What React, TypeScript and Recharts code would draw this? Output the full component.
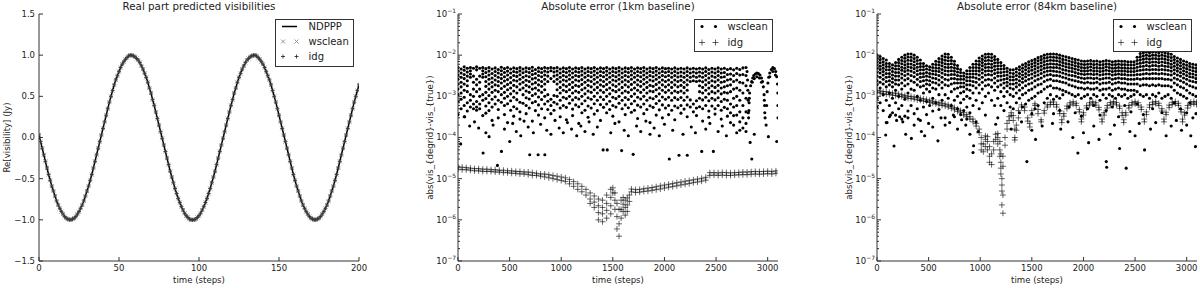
import React from 'react';
import { ComposedChart, ScatterChart, Scatter, Line, XAxis, YAxis, Legend } from 'recharts';

const FONT = "'DejaVu Sans', sans-serif";
const INK = '#222';
const FRAME = '#333';

// Real part of the predicted visibility (Jy), one value per time step 0..200.
// NDPPP, wsclean and idg lie on top of each other at this scale.
const REAL_VIS = [
  0.03, -0.05, -0.13, -0.21, -0.29, -0.37, -0.45, -0.52, -0.59, -0.65,
  -0.71, -0.77, -0.82, -0.86, -0.9, -0.93, -0.96, -0.98, -0.99, -1.0,
  -1.0, -0.99, -0.98, -0.96, -0.93, -0.9, -0.86, -0.82, -0.77, -0.71,
  -0.65, -0.59, -0.52, -0.45, -0.37, -0.29, -0.21, -0.13, -0.05, 0.03,
  0.11, 0.19, 0.27, 0.35, 0.43, 0.5, 0.57, 0.64, 0.7, 0.75,
  0.8, 0.85, 0.89, 0.92, 0.95, 0.97, 0.99, 1.0, 1.0, 0.99,
  0.98, 0.96, 0.94, 0.91, 0.87, 0.83, 0.78, 0.73, 0.67, 0.6,
  0.54, 0.46, 0.39, 0.31, 0.23, 0.15, 0.07, -0.01, -0.09, -0.17,
  -0.25, -0.33, -0.41, -0.48, -0.55, -0.62, -0.68, -0.74, -0.79, -0.84,
  -0.88, -0.92, -0.95, -0.97, -0.99, -1.0, -1.0, -1.0, -0.99, -0.97,
  -0.95, -0.92, -0.88, -0.84, -0.79, -0.74, -0.68, -0.62, -0.55, -0.48,
  -0.41, -0.33, -0.25, -0.17, -0.09, -0.01, 0.07, 0.15, 0.23, 0.31,
  0.39, 0.46, 0.54, 0.6, 0.67, 0.73, 0.78, 0.83, 0.87, 0.91,
  0.94, 0.96, 0.98, 0.99, 1.0, 1.0, 0.99, 0.97, 0.95, 0.92,
  0.89, 0.85, 0.8, 0.75, 0.7, 0.64, 0.57, 0.5, 0.43, 0.35,
  0.27, 0.19, 0.11, 0.03, -0.05, -0.13, -0.21, -0.29, -0.37, -0.45,
  -0.52, -0.59, -0.65, -0.71, -0.77, -0.82, -0.86, -0.9, -0.93, -0.96,
  -0.98, -0.99, -1.0, -1.0, -0.99, -0.98, -0.96, -0.93, -0.9, -0.86,
  -0.82, -0.77, -0.71, -0.65, -0.59, -0.52, -0.45, -0.37, -0.29, -0.21,
  -0.13, -0.05, 0.03, 0.11, 0.19, 0.27, 0.35, 0.43, 0.5, 0.57,
  0.64,
];

const REAL_X_TICKS = [0, 50, 100, 150, 200];
const REAL_Y_TICKS = [-1.5, -1, -0.5, 0, 0.5, 1, 1.5];
const ERR_X_TICKS = [0, 500, 1000, 1500, 2000, 2500, 3000];
const ERR_DECADES = [1e-7, 1e-6, 1e-5, 1e-4, 1e-3, 1e-2, 1e-1];

// 1km baseline, wsclean: [time step, ...abs errors read in that column]
const WS_1KM = [
  [0, 5e-3, 4.1e-3, 3.3e-3, 2.6e-3, 2e-3, 1.5e-3, 1.1e-3, 7.5e-4, 3.6e-4],
  [30, 4.6e-3, 3.7e-3, 2.9e-3, 2.2e-3, 1.7e-3, 1.2e-3, 8.5e-4, 5e-4],
  [60, 5.2e-3, 4.3e-3, 3.4e-3, 2.7e-3, 2e-3, 1.4e-3, 9.5e-4, 6e-4, 3.2e-4],
  [90, 4.8e-3, 3.9e-3, 3.1e-3, 2.4e-3, 1.8e-3, 1.3e-3, 7e-4, 4.4e-4],
  [120, 5e-3, 4.2e-3, 3.5e-3, 2.9e-3, 1.1e-3, 8e-4, 5.5e-4],
  [150, 4.8e-3, 3.1e-3, 2.2e-3, 1.5e-3, 1e-3, 6.5e-4, 5e-4],
  [180, 5.2e-3, 4.4e-3, 2.6e-3, 1.9e-3, 1.3e-3, 7.5e-4, 5.5e-4, 4.6e-4],
  [210, 4.8e-3, 3.1e-3, 2.2e-3, 1.5e-3, 1e-3, 6.5e-4, 5e-4],
  [240, 5e-3, 4.2e-3, 3.5e-3, 2.9e-3, 1.1e-3, 8e-4, 3.4e-4],
  [270, 4.7e-3, 3.8e-3, 3e-3, 2.3e-3, 1.75e-3, 1.25e-3, 8.8e-4, 5.8e-4, 3.9e-4],
  [300, 5e-3, 4.1e-3, 3.3e-3, 2.6e-3, 2e-3, 1.5e-3, 1.05e-3, 7e-4, 4.5e-4],
  [330, 4.6e-3, 3.6e-3, 2.8e-3, 2.2e-3, 1.7e-3, 1.25e-3, 8.5e-4, 5.5e-4, 2.6e-4],
  [360, 4.9e-3, 4e-3, 3.2e-3, 2.5e-3, 1.9e-3, 1.4e-3, 9.8e-4, 6.5e-4],
  [390, 4.5e-3, 3.7e-3, 2.9e-3, 2.3e-3, 1.8e-3, 1.3e-3, 8e-4, 4.8e-4, 3e-4],
  [420, 5.1e-3, 4.2e-3, 3.4e-3, 2.7e-3, 2.1e-3, 1.55e-3, 1.1e-3, 7.2e-4],
  [450, 4.7e-3, 3.8e-3, 3e-3, 2.35e-3, 1.75e-3, 1.25e-3, 9e-4, 6e-4, 3.6e-4],
  [480, 5e-3, 4.1e-3, 3.3e-3, 2.55e-3, 1.95e-3, 1.45e-3, 1e-3, 6.6e-4, 2.3e-4],
  [510, 4.6e-3, 3.7e-3, 2.85e-3, 2.15e-3, 1.6e-3, 1.15e-3, 7.8e-4, 4.6e-4],
  [540, 4.9e-3, 4e-3, 3.2e-3, 2.45e-3, 1.85e-3, 1.35e-3, 9.5e-4, 5.6e-4, 3.3e-4],
  [570, 4.7e-3, 3.85e-3, 3.05e-3, 2.35e-3, 1.7e-3, 1.2e-3, 8.3e-4, 5e-4],
  [600, 5e-3, 4.15e-3, 3.35e-3, 2.6e-3, 2e-3, 1.45e-3, 7.2e-4, 4.2e-4, 2.8e-4],
  [630, 4.6e-3, 3.75e-3, 2.9e-3, 2.2e-3, 1.6e-3, 1.1e-3, 6.8e-4],
  [660, 4.9e-3, 4e-3, 3.15e-3, 2.45e-3, 1.85e-3, 1.35e-3, 9.2e-4, 6e-4, 3.8e-4],
  [690, 4.7e-3, 3.8e-3, 3e-3, 2.3e-3, 1.7e-3, 1.25e-3, 8.6e-4, 5.2e-4],
  [720, 5.1e-3, 4.2e-3, 3.4e-3, 2.65e-3, 2e-3, 1.5e-3, 1.05e-3, 7e-4, 2.5e-4],
  [750, 4.5e-3, 3.6e-3, 2.8e-3, 2.15e-3, 1.6e-3, 1.15e-3, 7.5e-4, 4.5e-4],
  [780, 4.9e-3, 4e-3, 3.2e-3, 2.5e-3, 1.9e-3, 1.4e-3, 9.6e-4, 6.2e-4, 3.5e-4],
  [810, 4.7e-3, 3.8e-3, 3e-3, 2.3e-3, 1.75e-3, 1.25e-3, 8.4e-4, 5e-4],
  [840, 5e-3, 4.1e-3, 3.3e-3, 2.6e-3, 2e-3, 1.45e-3, 1e-3, 6.5e-4, 3e-4],
  [870, 4.8e-3, 3.9e-3, 3.1e-3, 2.3e-3, 1.1e-3, 7.6e-4, 4.8e-4],
  [900, 5e-3, 4.2e-3, 2.7e-3, 8.5e-4, 6e-4, 3.8e-4],
  [930, 4.8e-3, 3.9e-3, 3.1e-3, 2.3e-3, 1.05e-3, 7.2e-4, 4.6e-4],
  [960, 5e-3, 4.1e-3, 3.3e-3, 2.6e-3, 2e-3, 1.45e-3, 1e-3, 6.5e-4],
  [990, 4.6e-3, 3.7e-3, 2.9e-3, 2.25e-3, 1.65e-3, 1.2e-3, 8e-4, 5.2e-4, 3.2e-4],
  [1020, 4.9e-3, 4e-3, 3.2e-3, 2.5e-3, 1.9e-3, 1.4e-3, 9.5e-4, 6e-4],
  [1050, 4.7e-3, 3.8e-3, 3e-3, 2.35e-3, 1.75e-3, 1.3e-3, 8.8e-4, 5.4e-4, 2.7e-4],
  [1080, 5e-3, 4.1e-3, 3.3e-3, 2.6e-3, 1.95e-3, 1.45e-3, 1e-3, 6.8e-4],
  [1110, 4.6e-3, 3.7e-3, 2.9e-3, 2.2e-3, 1.65e-3, 1.2e-3, 8.2e-4, 4.9e-4, 3.4e-4],
  [1140, 4.9e-3, 4e-3, 3.2e-3, 2.5e-3, 1.85e-3, 1.35e-3, 9.4e-4, 6.2e-4],
  [1170, 4.7e-3, 3.85e-3, 3.05e-3, 2.35e-3, 1.75e-3, 1.25e-3, 8.6e-4, 5.6e-4, 2.2e-4],
  [1200, 5e-3, 4.1e-3, 3.3e-3, 2.55e-3, 1.95e-3, 1.45e-3, 1e-3, 6.6e-4, 4e-4],
  [1230, 4.6e-3, 3.7e-3, 2.9e-3, 2.2e-3, 1.6e-3, 1.15e-3, 7.8e-4, 4.6e-4],
  [1260, 4.9e-3, 4e-3, 3.2e-3, 2.45e-3, 1.85e-3, 1.35e-3, 9.2e-4, 5.8e-4, 3.1e-4],
  [1290, 4.7e-3, 3.8e-3, 3e-3, 2.3e-3, 1.7e-3, 1.25e-3, 8.5e-4, 5.2e-4],
  [1320, 5e-3, 4.1e-3, 3.3e-3, 2.6e-3, 2e-3, 1.45e-3, 1e-3, 6.6e-4, 3.7e-4],
  [1350, 4.6e-3, 3.7e-3, 2.9e-3, 2.2e-3, 1.65e-3, 1.2e-3, 8e-4, 4.5e-4],
  [1380, 4.9e-3, 4e-3, 3.2e-3, 2.5e-3, 1.9e-3, 1.4e-3, 9.6e-4, 6.3e-4, 2.6e-4],
  [1410, 4.7e-3, 3.8e-3, 3e-3, 2.3e-3, 1.75e-3, 1.25e-3, 8.4e-4, 5.4e-4],
  [1440, 5e-3, 4.1e-3, 3.3e-3, 2.6e-3, 1.95e-3, 1.45e-3, 1e-3, 6.5e-4, 4e-4],
  [1470, 4.6e-3, 3.7e-3, 2.9e-3, 2.2e-3, 1.6e-3, 1.15e-3, 7.6e-4, 4.8e-4],
  [1500, 4.9e-3, 4e-3, 3.2e-3, 2.5e-3, 1.9e-3, 1.4e-3, 9.5e-4, 6e-4, 3.3e-4],
  [1530, 4.7e-3, 3.8e-3, 3e-3, 2.35e-3, 1.75e-3, 1.3e-3, 8.8e-4, 5.5e-4],
  [1560, 5e-3, 4.1e-3, 3.3e-3, 2.6e-3, 2e-3, 1.45e-3, 1e-3, 6.8e-4, 2.4e-4],
  [1590, 4.6e-3, 3.7e-3, 2.9e-3, 2.25e-3, 1.65e-3, 1.2e-3, 8e-4, 5e-4],
  [1620, 4.9e-3, 4e-3, 3.2e-3, 2.5e-3, 1.9e-3, 1.35e-3, 9.4e-4, 6.2e-4, 3.6e-4],
  [1650, 4.7e-3, 3.8e-3, 3e-3, 2.3e-3, 1.7e-3, 1.25e-3, 8.4e-4, 5.3e-4],
  [1680, 5e-3, 4.1e-3, 3.3e-3, 2.6e-3, 1.95e-3, 1.45e-3, 1e-3, 6.6e-4, 4.1e-4],
  [1710, 4.6e-3, 3.7e-3, 2.9e-3, 2.2e-3, 1.6e-3, 1.15e-3, 7.7e-4, 4.6e-4],
  [1740, 4.9e-3, 4e-3, 3.2e-3, 2.5e-3, 1.9e-3, 1.4e-3, 9.5e-4, 6.1e-4, 2.9e-4],
  [1770, 4.7e-3, 3.8e-3, 3e-3, 2.3e-3, 1.75e-3, 1.25e-3, 8.6e-4, 5.5e-4],
  [1800, 5e-3, 4.1e-3, 3.3e-3, 2.6e-3, 2e-3, 1.45e-3, 1e-3, 6.5e-4, 3.8e-4],
  [1830, 4.6e-3, 3.7e-3, 2.9e-3, 2.2e-3, 1.65e-3, 1.2e-3, 8e-4, 4.8e-4],
  [1860, 4.9e-3, 4e-3, 3.2e-3, 2.5e-3, 1.85e-3, 1.35e-3, 9.2e-4, 5.9e-4, 2.3e-4],
  [1890, 4.7e-3, 3.8e-3, 3e-3, 2.35e-3, 1.75e-3, 1.3e-3, 8.7e-4, 5.4e-4],
  [1920, 5e-3, 4.1e-3, 3.3e-3, 2.6e-3, 1.95e-3, 1.45e-3, 1e-3, 6.7e-4, 3.5e-4],
  [1950, 4.6e-3, 3.7e-3, 2.9e-3, 2.2e-3, 1.6e-3, 1.15e-3, 7.8e-4, 4.7e-4],
  [1980, 4.9e-3, 4e-3, 3.2e-3, 2.5e-3, 1.9e-3, 1.4e-3, 9.6e-4, 6.2e-4, 3e-4],
  [2010, 4.7e-3, 3.8e-3, 3e-3, 2.3e-3, 1.7e-3, 1.25e-3, 8.5e-4, 5.2e-4],
  [2040, 4.8e-3, 4e-3, 3.2e-3, 2.5e-3, 1.9e-3, 1.4e-3, 9.5e-4, 6e-4, 3.6e-4],
  [2070, 4.6e-3, 3.7e-3, 2.9e-3, 2.2e-3, 1.65e-3, 1.2e-3, 8e-4, 4.6e-4],
  [2100, 4.9e-3, 4e-3, 3.2e-3, 2.5e-3, 1.9e-3, 1.35e-3, 9.3e-4, 5.8e-4, 2.7e-4],
  [2130, 4.6e-3, 3.7e-3, 2.95e-3, 2.3e-3, 1.7e-3, 1.25e-3, 8.4e-4, 5.3e-4],
  [2160, 4.8e-3, 3.9e-3, 3.1e-3, 2.45e-3, 1.85e-3, 1.35e-3, 9.4e-4, 6e-4, 3.9e-4],
  [2190, 4.6e-3, 3.7e-3, 2.9e-3, 2.2e-3, 1.65e-3, 1.2e-3, 8e-4, 4.9e-4],
  [2220, 4.9e-3, 4e-3, 3.2e-3, 2.5e-3, 1.9e-3, 1.4e-3, 9.6e-4, 6.2e-4, 3.2e-4],
  [2250, 4.6e-3, 3.7e-3, 2.9e-3, 2.3e-3, 8.2e-4, 5.5e-4],
  [2280, 4.8e-3, 3.9e-3, 3.1e-3, 2.4e-3, 6.5e-4, 4.2e-4],
  [2310, 4.6e-3, 3.7e-3, 2.9e-3, 2.3e-3, 7.8e-4, 5.2e-4, 3.4e-4],
  [2340, 4.8e-3, 3.9e-3, 3.1e-3, 2.4e-3, 1.8e-3, 1.3e-3, 9e-4, 5.6e-4],
  [2370, 4.6e-3, 3.7e-3, 2.9e-3, 2.25e-3, 1.65e-3, 1.2e-3, 8.2e-4, 5e-4, 2.5e-4],
  [2400, 4.9e-3, 4e-3, 3.2e-3, 2.5e-3, 1.9e-3, 1.4e-3, 9.5e-4, 6e-4],
  [2430, 4.5e-3, 3.6e-3, 2.8e-3, 2.15e-3, 1.6e-3, 1.15e-3, 7.8e-4, 4.4e-4, 3.1e-4],
  [2460, 4.8e-3, 3.9e-3, 3.1e-3, 2.4e-3, 1.8e-3, 1.3e-3, 9e-4, 5.8e-4],
  [2490, 4.6e-3, 3.7e-3, 2.9e-3, 2.25e-3, 1.65e-3, 1.2e-3, 8.2e-4, 5e-4, 3.7e-4],
  [2520, 4.9e-3, 4e-3, 3.2e-3, 2.5e-3, 1.85e-3, 1.35e-3, 9.2e-4, 6e-4],
  [2550, 4.6e-3, 3.7e-3, 2.9e-3, 2.2e-3, 1.6e-3, 1.15e-3, 7.5e-4, 4.6e-4, 2.8e-4],
  [2580, 4.8e-3, 3.8e-3, 3e-3, 2.3e-3, 1.7e-3, 1.25e-3, 8.5e-4, 5.4e-4],
  [2610, 4.5e-3, 3.4e-3, 2.5e-3, 1.8e-3, 1.2e-3, 8e-4, 5e-4, 3.3e-4],
  [2640, 4.7e-3, 3.5e-3, 2.6e-3, 1.9e-3, 1.3e-3, 6.5e-4, 4e-4],
  [2670, 4.4e-3, 3.2e-3, 2.3e-3, 1.5e-3, 9e-4, 5.5e-4, 3.4e-4, 2e-4],
  [2700, 4.8e-3, 3.6e-3, 2.5e-3, 1.6e-3, 1e-3, 6e-4, 3.5e-4],
  [2730, 4.5e-3, 3.3e-3, 2.2e-3, 1.4e-3, 8e-4, 4.2e-4, 2.4e-4, 1.5e-4],
  [2760, 4.9e-3, 3.4e-3, 2.1e-3, 1.2e-3, 6e-4, 3e-4],
  [2790, 5e-3, 3.2e-3, 1.8e-3, 9e-4, 4.2e-4, 2.2e-4, 1.4e-4],
];

// 1km baseline, wsclean: the two arches at the end of the run [time step, abs error]
const WS_1KM_ARCHES = [
  [2800, 4e-3], [2805, 2.5e-3], [2808, 1.4e-3], [2811, 8e-4], [2813, 4e-4], [2815, 3e-4],
  [2818, 4.5e-4], [2820, 7e-4], [2822, 9e-4], [2825, 1.2e-3], [2835, 1.8e-3], [2845, 2.3e-3],
  [2855, 2.8e-3], [2865, 3.2e-3], [2880, 3.5e-3], [2895, 3.7e-3], [2910, 3.6e-3], [2925, 3.3e-3],
  [2940, 2.8e-3], [2950, 2.3e-3], [2958, 1.7e-3], [2965, 1.1e-3], [2968, 8e-4], [2970, 6e-4],
  [2972, 4e-4], [2975, 3e-4], [2850, 2.2e-3], [2870, 2.7e-3], [2895, 3e-3], [2920, 2.8e-3],
  [2940, 2.2e-3], [2985, 2e-4], [2990, 6e-4], [2995, 1.3e-3], [3002, 2.1e-3], [3010, 2.9e-3],
  [3020, 3.7e-3], [3035, 4.5e-3], [3050, 5e-3], [3065, 4.7e-3], [3078, 4e-3], [3088, 3e-3],
  [3095, 2e-3], [3098, 1.2e-3], [3099, 6e-4], [3100, 3e-4], [3020, 3e-3], [3050, 4e-3], [3075, 3.3e-3],
];

// 1km baseline, wsclean: scattered low points
const WS_1KM_LOW = [
  [26, 7e-5], [65, 3.2e-4], [113, 1.9e-4], [160, 2.4e-4], [200, 1.7e-4], [243, 4.2e-5],
  [270, 1.3e-4], [301, 1.05e-4], [340, 2e-4], [382, 2.1e-5], [421, 4.6e-5], [450, 1.6e-4],
  [501, 8e-5], [530, 2.2e-4], [565, 1.4e-4], [608, 1.1e-4], [640, 2.5e-4], [680, 1.8e-4],
  [695, 3.8e-5], [730, 1.3e-4], [776, 3.8e-5], [800, 2.1e-4], [841, 3.8e-5], [860, 1.5e-4],
  [900, 1.2e-4], [940, 2.6e-4], [980, 1.7e-4], [1020, 1.3e-4], [1060, 2.3e-4], [1100, 1.6e-4],
  [1150, 1.1e-4], [1190, 1.9e-4], [1230, 1.4e-4], [1270, 2.4e-4], [1310, 1.2e-4], [1350, 1.8e-4],
  [1406, 5e-5], [1446, 5e-5], [1480, 1.3e-4], [1520, 2.2e-4], [1585, 4.8e-5], [1610, 1.5e-4],
  [1650, 1.1e-4], [1697, 3.9e-5], [1730, 1.9e-4], [1770, 1.4e-4], [1820, 2.5e-4], [1860, 1.2e-4],
  [1900, 1.7e-4], [1950, 1.1e-4], [2000, 2.1e-4], [2047, 3e-5], [2080, 1.5e-4], [2141, 3.7e-5],
  [2180, 1.2e-4], [2221, 3.7e-5], [2260, 1.8e-4], [2300, 1.3e-4], [2361, 4.6e-5], [2400, 1.6e-4],
  [2440, 2.2e-4], [2474, 4.6e-5], [2520, 1.4e-4], [2560, 1.9e-4], [2600, 1.1e-4], [2640, 2.3e-4],
  [2700, 1.3e-4], [2760, 1.7e-4], [2830, 7.6e-5], [2846, 3e-5], [2870, 1.2e-4], [3007, 1.05e-4],
  [3088, 8e-5],
];

// 1km baseline, idg: [time step, ...abs errors in that column]
const IDG_1KM = [
  [0, 1.9e-5, 1.7e-5], [40, 1.9e-5, 1.65e-5], [80, 1.85e-5, 1.65e-5], [120, 1.8e-5, 1.6e-5],
  [160, 1.75e-5, 1.55e-5], [200, 1.75e-5, 1.55e-5], [240, 1.7e-5, 1.5e-5], [280, 1.7e-5, 1.5e-5],
  [320, 1.65e-5, 1.5e-5], [360, 1.65e-5, 1.45e-5], [400, 1.6e-5, 1.45e-5], [440, 1.6e-5, 1.4e-5],
  [480, 1.55e-5, 1.4e-5], [520, 1.55e-5, 1.35e-5], [560, 1.5e-5, 1.35e-5], [600, 1.5e-5, 1.3e-5],
  [640, 1.45e-5, 1.3e-5], [680, 1.45e-5, 1.25e-5], [720, 1.4e-5, 1.2e-5], [760, 1.35e-5, 1.2e-5],
  [800, 1.3e-5, 1.15e-5], [840, 1.3e-5, 1.1e-5], [880, 1.25e-5, 1.05e-5], [920, 1.2e-5, 1e-5],
  [960, 1.15e-5, 9.5e-6], [1000, 1.1e-5, 9e-6], [1040, 1.05e-5, 8.5e-6], [1080, 9.5e-6, 7.5e-6],
  [1120, 8.5e-6, 6.5e-6], [1160, 7.5e-6, 5.5e-6], [1200, 6.5e-6, 4.8e-6], [1240, 5.5e-6, 4e-6],
  [1280, 4.5e-6, 3.2e-6, 2.5e-6], [1320, 3.8e-6, 2.7e-6, 2e-6], [1360, 3.2e-6, 2.2e-6, 1.5e-6, 1e-6],
  [1400, 3e-6, 2e-6, 1.4e-6, 9e-7], [1440, 4e-6, 2.5e-6, 1.7e-6, 1.1e-6],
  [1480, 5.5e-6, 3.5e-6, 2.2e-6, 1.4e-6], [1500, 6e-6, 4.5e-6], [1520, 4.5e-6, 3e-6, 1.8e-6],
  [1540, 2.5e-6, 1.2e-6, 6e-7], [1560, 1.8e-6, 8e-7, 4e-7], [1580, 3e-6, 1.8e-6, 1.1e-6],
  [1600, 3.5e-6, 2.4e-6, 1.6e-6], [1620, 3e-6, 2e-6, 1.3e-6], [1640, 3.4e-6, 2.3e-6, 1.6e-6],
  [1660, 4e-6, 2.8e-6], [1680, 5.6e-6, 4.8e-6], [1720, 5.4e-6, 4.6e-6], [1760, 5.5e-6, 4.7e-6],
  [1800, 5.7e-6, 4.9e-6], [1840, 5.9e-6, 5e-6], [1880, 6.1e-6, 5.2e-6], [1920, 6.4e-6, 5.4e-6],
  [1960, 6.7e-6, 5.6e-6], [2000, 7e-6, 5.9e-6], [2040, 7.3e-6, 6.2e-6], [2080, 7.6e-6, 6.4e-6],
  [2120, 8e-6, 6.7e-6], [2160, 8.3e-6, 7e-6], [2200, 8.7e-6, 7.3e-6], [2240, 9e-6, 7.6e-6],
  [2280, 9.4e-6, 8e-6], [2320, 9.8e-6, 8.3e-6], [2360, 1.02e-5, 8.7e-6], [2400, 1.08e-5, 9.2e-6],
  [2440, 1.4e-5, 1.2e-5], [2480, 1.4e-5, 1.22e-5], [2520, 1.38e-5, 1.2e-5], [2560, 1.42e-5, 1.22e-5],
  [2600, 1.4e-5, 1.2e-5], [2640, 1.38e-5, 1.2e-5], [2680, 1.4e-5, 1.22e-5], [2720, 1.42e-5, 1.24e-5],
  [2760, 1.45e-5, 1.25e-5], [2800, 1.45e-5, 1.25e-5], [2840, 1.48e-5, 1.28e-5], [2880, 1.5e-5, 1.3e-5],
  [2920, 1.48e-5, 1.28e-5], [2960, 1.5e-5, 1.3e-5], [3000, 1.52e-5, 1.32e-5], [3040, 1.5e-5, 1.3e-5],
  [3080, 1.55e-5, 1.35e-5],
];

// 84km baseline, wsclean: [time step, ...abs errors in that column]
const WS_84KM = [
  [0, 1e-2, 8.4e-3, 7e-3, 5.8e-3, 4.8e-3, 3.9e-3, 3.1e-3, 2.4e-3, 1.9e-3, 9e-4, 5.5e-4],
  [30, 9.3e-3, 7.8e-3, 6.5e-3, 5.4e-3, 4.5e-3, 3.7e-3, 2.9e-3, 2.2e-3, 1.6e-3, 7e-4],
  [60, 8.3e-3, 6.9e-3, 5.8e-3, 4.8e-3, 4e-3, 3.3e-3, 2.6e-3, 2e-3, 1.1e-3, 4.5e-4],
  [90, 7.6e-3, 6.3e-3, 5.3e-3, 4.4e-3, 3.6e-3, 2.9e-3, 2.3e-3, 1.7e-3, 8e-4, 2.3e-4],
  [120, 6.3e-3, 5.3e-3, 4.4e-3, 3.6e-3, 3e-3, 2.4e-3, 1.9e-3, 1.2e-3, 6e-4, 3.2e-4],
  [150, 5.8e-3, 4.8e-3, 4e-3, 3.3e-3, 2.7e-3, 2.2e-3, 1.7e-3, 9e-4, 4e-4],
  [180, 6.6e-3, 5.5e-3, 4.6e-3, 3.8e-3, 3.1e-3, 2.5e-3, 2e-3, 1.4e-3, 7e-4, 3.5e-4],
  [210, 7.9e-3, 6.6e-3, 5.5e-3, 4.6e-3, 3.8e-3, 3.1e-3, 2.5e-3, 1.9e-3, 1e-3, 5e-4],
  [240, 8.9e-3, 7.4e-3, 6.2e-3, 5.1e-3, 4.3e-3, 3.5e-3, 2.8e-3, 2.1e-3, 1.5e-3, 6e-4, 2.8e-4],
  [270, 1e-2, 8.4e-3, 7e-3, 5.8e-3, 4.8e-3, 4e-3, 3.2e-3, 2.5e-3, 1.8e-3, 8.5e-4, 3.3e-4],
  [300, 1.07e-2, 9e-3, 7.5e-3, 6.2e-3, 5.2e-3, 4.3e-3, 3.5e-3, 2.7e-3, 2e-3, 1.2e-3, 4.4e-4],
  [330, 1.07e-2, 8.9e-3, 7.4e-3, 6.1e-3, 5e-3, 4.1e-3, 3.2e-3, 2.4e-3, 1.5e-3, 6e-4],
  [360, 1e-2, 8.3e-3, 6.9e-3, 5.7e-3, 4.7e-3, 3.8e-3, 3e-3, 2.2e-3, 1.4e-3, 3.8e-4],
  [390, 8.9e-3, 7.4e-3, 6.2e-3, 5.1e-3, 4.2e-3, 3.4e-3, 2.6e-3, 1.9e-3, 1e-3, 5e-4],
  [420, 7.6e-3, 6.3e-3, 5.3e-3, 4.4e-3, 3.6e-3, 2.9e-3, 2.3e-3, 1.7e-3, 8e-4, 2.6e-4],
  [450, 6.3e-3, 5.3e-3, 4.4e-3, 3.6e-3, 3e-3, 2.4e-3, 1.8e-3, 1.2e-3, 5.5e-4],
  [480, 5.5e-3, 4.6e-3, 3.8e-3, 3.1e-3, 2.5e-3, 2e-3, 1.5e-3, 7.5e-4, 3.6e-4],
  [510, 5.2e-3, 4.4e-3, 3.6e-3, 3e-3, 2.4e-3, 1.9e-3, 1.3e-3, 6e-4],
  [540, 6e-3, 5e-3, 4.2e-3, 3.5e-3, 2.8e-3, 2.2e-3, 1.6e-3, 9e-4, 4.4e-4],
  [570, 7.1e-3, 5.9e-3, 4.9e-3, 4.1e-3, 3.4e-3, 2.7e-3, 2.1e-3, 1.5e-3, 7e-4],
  [600, 8.3e-3, 6.9e-3, 5.8e-3, 4.8e-3, 4e-3, 3.2e-3, 2.5e-3, 1.9e-3, 1.1e-3, 4.8e-4],
  [630, 9.5e-3, 7.9e-3, 6.6e-3, 5.5e-3, 4.5e-3, 3.7e-3, 2.9e-3, 2.2e-3, 1.6e-3, 8e-4],
  [660, 1.07e-2, 9e-3, 7.5e-3, 6.2e-3, 5.1e-3, 4.2e-3, 3.4e-3, 2.6e-3, 1.9e-3, 1.1e-3, 3e-4],
  [690, 1.05e-2, 8.8e-3, 7.3e-3, 6e-3, 5e-3, 4.1e-3, 3.3e-3, 2.5e-3, 1.8e-3, 9e-4],
  [720, 8.9e-3, 7.4e-3, 6.2e-3, 5.1e-3, 4.2e-3, 3.4e-3, 2.7e-3, 2e-3, 1.3e-3, 6e-4],
  [750, 7.1e-3, 5.9e-3, 4.9e-3, 4.1e-3, 3.4e-3, 2.7e-3, 2.1e-3, 1.5e-3, 8e-4, 3.2e-4],
  [780, 5.6e-3, 4.7e-3, 3.9e-3, 3.2e-3, 2.6e-3, 2.1e-3, 1.6e-3, 1e-3, 5e-4],
  [810, 4.5e-3, 3.8e-3, 3.1e-3, 2.6e-3, 2.1e-3, 1.7e-3, 1.2e-3, 7e-4, 3.6e-4],
  [840, 3.7e-3, 3.1e-3, 2.6e-3, 2.1e-3, 1.7e-3, 1.3e-3, 8.5e-4, 4.5e-4],
  [870, 4.2e-3, 3.5e-3, 2.9e-3, 2.4e-3, 1.9e-3, 1.5e-3, 1e-3, 5.5e-4, 2.8e-4],
  [900, 5e-3, 4.2e-3, 3.5e-3, 2.9e-3, 2.4e-3, 1.9e-3, 1.4e-3, 9e-4, 4e-4],
  [930, 6e-3, 5e-3, 4.2e-3, 3.5e-3, 2.9e-3, 2.3e-3, 1.8e-3, 1.2e-3, 6e-4],
  [960, 7.2e-3, 6e-3, 5e-3, 4.2e-3, 3.5e-3, 2.8e-3, 2.2e-3, 1.6e-3, 8e-4, 2.4e-4],
  [990, 8.5e-3, 7.1e-3, 5.9e-3, 4.9e-3, 4.1e-3, 3.3e-3, 2.6e-3, 1.9e-3, 1.2e-3, 5e-4],
  [1020, 9.5e-3, 7.9e-3, 6.6e-3, 5.5e-3, 4.5e-3, 3.7e-3, 2.9e-3, 2.2e-3, 1.5e-3, 7e-4],
  [1050, 1.05e-2, 8.8e-3, 7.3e-3, 6e-3, 5e-3, 4.1e-3, 3.3e-3, 2.5e-3, 1.8e-3, 1e-3, 3.5e-4],
  [1080, 1.07e-2, 9e-3, 7.5e-3, 6.2e-3, 5.1e-3, 4.2e-3, 3.4e-3, 2.6e-3, 1.9e-3, 1.2e-3],
  [1110, 1.05e-2, 8.8e-3, 7.3e-3, 6e-3, 5e-3, 4.1e-3, 3.3e-3, 2.5e-3, 1.7e-3, 8e-4],
  [1140, 9.3e-3, 7.8e-3, 6.5e-3, 5.4e-3, 4.4e-3, 3.6e-3, 2.8e-3, 2.1e-3, 1.4e-3, 6e-4],
  [1170, 7.9e-3, 6.6e-3, 5.5e-3, 4.6e-3, 3.8e-3, 3.1e-3, 2.4e-3, 1.7e-3, 9e-4, 3e-4],
  [1200, 6.6e-3, 5.5e-3, 4.6e-3, 3.8e-3, 3.1e-3, 2.5e-3, 1.9e-3, 1.3e-3, 6e-4],
  [1230, 5.6e-3, 4.7e-3, 3.9e-3, 3.2e-3, 2.6e-3, 2.1e-3, 1.6e-3, 1e-3, 4.5e-4],
  [1260, 4.8e-3, 4e-3, 3.3e-3, 2.7e-3, 2.2e-3, 1.8e-3, 1.3e-3, 7e-4],
  [1290, 4.4e-3, 3.7e-3, 3e-3, 2.5e-3, 2e-3, 1.6e-3, 1.1e-3, 5.5e-4],
  [1320, 4.4e-3, 3.6e-3, 3e-3, 2.5e-3, 2e-3, 1.5e-3, 1e-3, 5e-4],
  [1350, 4.7e-3, 3.9e-3, 3.2e-3, 2.6e-3, 2.1e-3, 1.7e-3, 1.2e-3, 7e-4],
  [1380, 5.2e-3, 4.4e-3, 3.6e-3, 3e-3, 2.4e-3, 1.9e-3, 1.4e-3, 9e-4, 4e-4],
  [1410, 5.8e-3, 4.8e-3, 4e-3, 3.3e-3, 2.7e-3, 2.2e-3, 1.6e-3, 1.1e-3, 5.5e-4],
  [1440, 6.3e-3, 5.3e-3, 4.4e-3, 3.6e-3, 3e-3, 2.4e-3, 1.8e-3, 1.2e-3, 6.5e-4],
  [1470, 6.9e-3, 5.8e-3, 4.8e-3, 4e-3, 3.3e-3, 2.6e-3, 2e-3, 1.4e-3, 8e-4],
  [1500, 7.4e-3, 6.2e-3, 5.2e-3, 4.3e-3, 3.5e-3, 2.8e-3, 2.1e-3, 1.5e-3, 9e-4, 3.8e-4],
  [1530, 7.9e-3, 6.6e-3, 5.5e-3, 4.6e-3, 3.8e-3, 3.1e-3, 2.4e-3, 1.7e-3, 1e-3, 5e-4],
  [1560, 8.7e-3, 7.3e-3, 6.1e-3, 5e-3, 4.1e-3, 3.3e-3, 2.6e-3, 1.9e-3, 1.2e-3, 6e-4],
  [1590, 9.3e-3, 7.8e-3, 6.5e-3, 5.4e-3, 4.4e-3, 3.6e-3, 2.8e-3, 2e-3, 1.3e-3],
  [1620, 1e-2, 8.4e-3, 7e-3, 5.8e-3, 4.8e-3, 3.9e-3, 3.1e-3, 2.3e-3, 1.5e-3, 7e-4],
  [1650, 1.05e-2, 8.8e-3, 7.3e-3, 6e-3, 5e-3, 4.1e-3, 3.3e-3, 2.5e-3, 1.7e-3, 9e-4],
  [1680, 1.07e-2, 9e-3, 7.5e-3, 6.2e-3, 5.1e-3, 4.2e-3, 3.4e-3, 2.6e-3, 1.8e-3, 1.1e-3],
  [1710, 1.07e-2, 8.9e-3, 7.4e-3, 6.1e-3, 5e-3, 4.1e-3, 3.2e-3, 2.4e-3, 1.6e-3, 8.5e-4, 3.8e-4],
  [1740, 1.05e-2, 8.8e-3, 7.3e-3, 6e-3, 5e-3, 4e-3, 3.2e-3, 2.4e-3, 1.6e-3, 1e-3],
  [1770, 1e-2, 8.4e-3, 7e-3, 5.8e-3, 4.8e-3, 3.9e-3, 3.1e-3, 2.3e-3, 1.5e-3, 9e-4, 4.6e-4],
  [1800, 9.5e-3, 7.9e-3, 6.6e-3, 5.5e-3, 4.5e-3, 3.7e-3, 2.9e-3, 2.2e-3, 1.4e-3, 1.1e-3],
  [1830, 9.1e-3, 7.6e-3, 6.3e-3, 5.2e-3, 4.3e-3, 3.5e-3, 2.8e-3, 2.1e-3, 1.3e-3],
  [1860, 8.7e-3, 7.2e-3, 6e-3, 5e-3, 4.1e-3, 3.3e-3, 2.6e-3, 1.9e-3, 1.2e-3, 5.5e-4],
  [1890, 8.3e-3, 6.9e-3, 5.8e-3, 4.8e-3, 4e-3, 3.2e-3, 2.5e-3, 1.8e-3, 1.1e-3],
  [1920, 7.9e-3, 6.6e-3, 5.5e-3, 4.6e-3, 3.8e-3, 3.1e-3, 2.4e-3, 1.7e-3, 1e-3, 4e-4],
  [1950, 7.6e-3, 6.3e-3, 5.3e-3, 4.4e-3, 3.6e-3, 2.9e-3, 2.3e-3, 1.6e-3, 1.1e-3],
  [1980, 7.2e-3, 6e-3, 5e-3, 4.2e-3, 3.5e-3, 2.8e-3, 2.2e-3, 1.6e-3, 9e-4, 3.3e-4],
  [2010, 7.1e-3, 5.9e-3, 4.9e-3, 4.1e-3, 3.4e-3, 2.7e-3, 2.1e-3, 1.5e-3, 1e-3],
  [2040, 7.2e-3, 6e-3, 5e-3, 4.2e-3, 3.5e-3, 2.8e-3, 2.2e-3, 1.6e-3, 1.1e-3, 5e-4],
  [2070, 7.4e-3, 6.2e-3, 5.2e-3, 4.3e-3, 3.5e-3, 2.8e-3, 2.1e-3, 1.5e-3, 9e-4],
  [2100, 7.1e-3, 5.9e-3, 4.9e-3, 4.1e-3, 3.4e-3, 2.7e-3, 2.1e-3, 1.5e-3, 1.1e-3, 6e-4],
  [2130, 7.2e-3, 6e-3, 5e-3, 4.2e-3, 3.5e-3, 2.8e-3, 2.2e-3, 1.6e-3, 1e-3],
  [2160, 6.9e-3, 5.8e-3, 4.8e-3, 4e-3, 3.3e-3, 2.6e-3, 2e-3, 1.4e-3, 8e-4, 3.5e-4],
  [2190, 7.1e-3, 5.9e-3, 4.9e-3, 4.1e-3, 3.4e-3, 2.7e-3, 2.1e-3, 1.5e-3, 1.1e-3],
  [2220, 7.4e-3, 6.2e-3, 5.2e-3, 4.3e-3, 3.5e-3, 2.8e-3, 2.1e-3, 1.5e-3, 9e-4, 4.5e-4],
  [2250, 7.2e-3, 6e-3, 5e-3, 4.2e-3, 3.5e-3, 2.8e-3, 2.2e-3, 1.6e-3, 1.1e-3],
  [2280, 6.9e-3, 5.8e-3, 4.8e-3, 4e-3, 3.3e-3, 2.6e-3, 2e-3, 1.4e-3, 1e-3, 5.5e-4],
  [2310, 7.1e-3, 5.9e-3, 4.9e-3, 4.1e-3, 3.4e-3, 2.7e-3, 2.1e-3, 1.5e-3, 9e-4],
  [2340, 7.2e-3, 6e-3, 5e-3, 4.2e-3, 3.5e-3, 2.8e-3, 2.2e-3, 1.6e-3, 1.1e-3, 3.2e-4],
  [2370, 7.1e-3, 5.9e-3, 4.9e-3, 4.1e-3, 3.4e-3, 2.7e-3, 2.1e-3, 1.5e-3, 1e-3],
  [2400, 7.1e-3, 5.9e-3, 4.9e-3, 4.1e-3, 3.4e-3, 2.7e-3, 2.1e-3, 1.5e-3, 1.1e-3, 6e-4],
  [2430, 6.9e-3, 5.8e-3, 4.8e-3, 4e-3, 3.3e-3, 2.6e-3, 2e-3, 1.4e-3, 9e-4],
  [2460, 6.9e-3, 5.8e-3, 4.8e-3, 4e-3, 3.3e-3, 2.6e-3, 2e-3, 1.4e-3, 1e-3, 4.2e-4],
  [2490, 6.9e-3, 5.8e-3, 4.8e-3, 4e-3, 3.3e-3, 2.6e-3, 2e-3, 1.4e-3, 1.1e-3],
  [2520, 8.9e-3, 7.4e-3, 6.2e-3, 5.1e-3, 4.2e-3, 3.4e-3, 2.7e-3, 2e-3, 1.3e-3, 6.5e-4],
  [2550, 1.1e-2, 9.2e-3, 7.7e-3, 6.4e-3, 5.3e-3, 4.3e-3, 3.4e-3, 2.6e-3, 1.8e-3, 1.1e-3],
  [2580, 1.15e-2, 9.6e-3, 8e-3, 6.6e-3, 5.4e-3, 4.4e-3, 3.5e-3, 2.7e-3, 1.9e-3, 1e-3, 3.6e-4],
  [2610, 1.2e-2, 1e-2, 8.3e-3, 6.8e-3, 5.6e-3, 4.5e-3, 3.6e-3, 2.7e-3, 1.9e-3, 1.1e-3],
  [2640, 1.15e-2, 9.6e-3, 8e-3, 6.6e-3, 5.4e-3, 4.4e-3, 3.5e-3, 2.7e-3, 1.8e-3, 9e-4],
  [2670, 1.2e-2, 1e-2, 8.3e-3, 6.8e-3, 5.6e-3, 4.5e-3, 3.6e-3, 2.7e-3, 1.9e-3, 1.1e-3, 5e-4],
  [2700, 1.2e-2, 1e-2, 8.3e-3, 6.8e-3, 5.6e-3, 4.5e-3, 3.6e-3, 2.7e-3, 1.8e-3, 1e-3],
  [2730, 1.15e-2, 9.6e-3, 8e-3, 6.6e-3, 5.4e-3, 4.4e-3, 3.5e-3, 2.7e-3, 1.9e-3, 1.2e-3],
  [2760, 1.2e-2, 1e-2, 8.3e-3, 6.8e-3, 5.6e-3, 4.5e-3, 3.6e-3, 2.7e-3, 1.8e-3, 9e-4, 4e-4],
  [2790, 1.15e-2, 9.6e-3, 8e-3, 6.6e-3, 5.4e-3, 4.4e-3, 3.5e-3, 2.6e-3, 1.8e-3, 1e-3],
  [2820, 1.1e-2, 9.2e-3, 7.7e-3, 6.4e-3, 5.3e-3, 4.3e-3, 3.4e-3, 2.6e-3, 1.8e-3, 1.1e-3],
  [2850, 1.05e-2, 8.8e-3, 7.3e-3, 6e-3, 5e-3, 4.1e-3, 3.3e-3, 2.5e-3, 1.7e-3, 9e-4],
  [2880, 9.3e-3, 7.8e-3, 6.5e-3, 5.4e-3, 4.4e-3, 3.6e-3, 2.8e-3, 2.1e-3, 1.4e-3, 7e-4],
  [2910, 8.5e-3, 7.1e-3, 5.9e-3, 4.9e-3, 4.1e-3, 3.3e-3, 2.6e-3, 1.9e-3, 1.2e-3],
  [2940, 7.9e-3, 6.6e-3, 5.5e-3, 4.6e-3, 3.8e-3, 3.1e-3, 2.4e-3, 1.7e-3, 1.1e-3, 5e-4],
  [2970, 7.2e-3, 6e-3, 5e-3, 4.2e-3, 3.5e-3, 2.8e-3, 2.2e-3, 1.6e-3, 1e-3],
  [3000, 6.8e-3, 5.7e-3, 4.7e-3, 3.9e-3, 3.2e-3, 2.6e-3, 2e-3, 1.4e-3, 9e-4, 4e-4],
  [3030, 6.3e-3, 5.3e-3, 4.4e-3, 3.6e-3, 3e-3, 2.4e-3, 1.8e-3, 1.2e-3, 7e-4],
  [3060, 6e-3, 5e-3, 4.2e-3, 3.5e-3, 2.9e-3, 2.3e-3, 1.7e-3, 1.1e-3, 3e-4],
  [3090, 5.8e-3, 4.8e-3, 4e-3, 3.3e-3, 2.7e-3, 2.2e-3, 1.6e-3, 1e-3, 3.8e-4],
];

// 84km baseline, wsclean: scattered low points
const WS_84KM_LOW = [
  [84, 1.15e-4], [97, 2.3e-4], [130, 3.5e-4], [165, 6.2e-5], [190, 2.6e-4], [220, 3.2e-4],
  [250, 2.4e-4], [278, 1.2e-4], [300, 3e-4], [333, 9.5e-5], [360, 2e-4], [400, 2.8e-4],
  [430, 1.4e-4], [462, 1.1e-4], [500, 2.2e-4], [540, 1.8e-4], [590, 8.3e-5], [620, 3e-4],
  [660, 2e-4], [704, 2.3e-4], [740, 3.5e-4], [780, 1.6e-4], [820, 2.7e-4], [860, 2e-4],
  [900, 1.2e-4], [930, 4.3e-5], [936, 6.3e-5], [980, 1.4e-4], [1150, 2.1e-4], [1300, 1.6e-4],
  [1400, 2.4e-4], [1452, 2.6e-5], [1500, 1.5e-4], [1536, 9e-5], [1600, 1.9e-4], [1700, 2.2e-4],
  [1780, 1.6e-4], [1850, 2.4e-4], [1897, 1e-4], [1946, 4.2e-5], [2000, 1.3e-4], [2050, 7.5e-5],
  [2100, 1.9e-4], [2150, 9e-5], [2221, 2.6e-5], [2225, 1.9e-5], [2260, 1.2e-4], [2300, 2e-4],
  [2350, 5.4e-5], [2414, 1.8e-5], [2450, 1.4e-4], [2500, 1.1e-4], [2540, 2.2e-4], [2592, 5e-5],
  [2650, 1.6e-4], [2700, 2.3e-4], [2801, 1.1e-4], [2850, 1.9e-4], [2900, 2.6e-4], [2950, 1.5e-4],
  [3000, 2e-4], [3040, 1.1e-4], [3085, 6e-5],
];

// 84km baseline, idg: [time step, ...abs errors in that column]
const IDG_84KM = [
  [0, 1.4e-3, 1.25e-3], [30, 1.35e-3, 1.2e-3], [60, 1.3e-3, 1.15e-3], [90, 1.3e-3, 1.12e-3],
  [120, 1.25e-3, 1.1e-3], [150, 1.2e-3, 1.07e-3], [180, 1.2e-3, 1.05e-3], [210, 1.15e-3, 1e-3],
  [240, 1.1e-3, 9.8e-4], [270, 1.05e-3, 9.4e-4], [300, 1e-3, 9e-4], [330, 1e-3, 8.8e-4],
  [360, 9.6e-4, 8.5e-4], [390, 9.3e-4, 8.2e-4], [420, 9e-4, 8e-4], [450, 8.7e-4, 7.7e-4],
  [480, 8.4e-4, 7.5e-4], [510, 8e-4, 7.1e-4], [540, 7.6e-4, 6.8e-4], [570, 7.3e-4, 6.5e-4],
  [600, 7e-4, 6.2e-4], [630, 6.8e-4, 6e-4], [660, 6.5e-4, 5.8e-4], [690, 6.2e-4, 5.5e-4],
  [720, 5.8e-4, 5.1e-4], [750, 5.3e-4, 4.7e-4], [780, 4.9e-4, 4.3e-4], [810, 4.5e-4, 4e-4],
  [840, 4e-4, 3.5e-4], [870, 3.6e-4, 3.2e-4], [900, 3.2e-4, 2.8e-4], [930, 2.8e-4, 2.4e-4],
  [960, 2.2e-4, 1.9e-4], [990, 1.6e-4, 1.3e-4], [1010, 1e-4, 7e-5, 5e-5], [1030, 7e-5, 4.5e-5],
  [1050, 9e-5, 1.1e-4, 6e-5], [1070, 1.05e-4, 8e-5, 5e-5], [1090, 6e-5, 3.5e-5, 2.5e-5],
  [1110, 4e-5, 2.2e-5], [1130, 8e-5, 5e-5], [1150, 1.2e-4, 9e-5], [1170, 1.25e-4, 1e-4, 7e-5],
  [1190, 8e-5, 5e-5, 3.5e-5], [1200, 4e-5, 2.5e-5, 1.8e-5, 1.3e-5],
  [1210, 1e-5, 7e-6, 5e-6, 2.3e-6], [1220, 1.45e-6, 4e-6, 2e-5, 3.5e-5], [1240, 6.5e-5, 1e-4],
  [1260, 1.6e-4, 2.2e-4], [1280, 2.6e-4, 3.2e-4], [1300, 3.4e-4, 4e-4], [1320, 3.4e-4, 2.6e-4],
  [1335, 1.6e-4, 1e-4, 8.7e-5], [1350, 1.5e-4, 2e-4], [1370, 3e-4, 4.5e-4], [1400, 5.5e-4, 6.2e-4],
  [1430, 5.5e-4, 4.5e-4], [1460, 3e-4, 2.5e-4], [1480, 1.8e-4, 2.2e-4], [1500, 3.5e-4, 4.5e-4],
  [1530, 6e-4, 6.6e-4], [1560, 4.8e-4, 3.8e-4], [1590, 2.7e-4, 2.4e-4], [1620, 4.5e-4, 3.9e-4],
  [1650, 6.2e-4, 5.5e-4], [1680, 7.2e-4, 6.3e-4], [1710, 7.3e-4, 6.4e-4], [1740, 6.3e-4, 5.5e-4],
  [1770, 4.4e-4, 3.8e-4], [1790, 2.7e-4, 2.3e-4], [1810, 3.8e-4, 3.3e-4], [1840, 5.8e-4, 5e-4],
  [1870, 7e-4, 6.1e-4], [1900, 7.4e-4, 6.5e-4], [1930, 6.8e-4, 6e-4], [1960, 4.8e-4, 4.2e-4],
  [1980, 2.8e-4, 2.4e-4], [2000, 4e-4, 3.5e-4], [2030, 5.9e-4, 5.2e-4], [2060, 7e-4, 6.1e-4],
  [2090, 7.4e-4, 6.5e-4], [2120, 7e-4, 6.1e-4], [2150, 5.4e-4, 4.7e-4], [2180, 2.8e-4, 2.4e-4],
  [2200, 4e-4, 3.5e-4], [2230, 6e-4, 5.2e-4], [2260, 7.1e-4, 6.2e-4], [2290, 7.5e-4, 6.6e-4],
  [2320, 7.1e-4, 6.2e-4], [2350, 5.8e-4, 5.1e-4], [2375, 4e-4, 3.4e-4], [2390, 2.7e-4, 2.3e-4],
  [2410, 4e-4, 3.5e-4], [2440, 6e-4, 5.2e-4], [2470, 7.1e-4, 6.2e-4], [2500, 7.5e-4, 6.6e-4],
  [2530, 7e-4, 6.1e-4], [2560, 5.5e-4, 4.8e-4], [2590, 2.8e-4, 2.4e-4], [2610, 4.2e-4, 3.6e-4],
  [2640, 6.2e-4, 5.4e-4], [2670, 7.2e-4, 6.3e-4], [2700, 7.5e-4, 6.6e-4], [2730, 6.8e-4, 6e-4],
  [2760, 5e-4, 4.4e-4], [2780, 2.8e-4, 2.4e-4], [2800, 4.1e-4, 3.6e-4], [2830, 6.1e-4, 5.3e-4],
  [2860, 7.2e-4, 6.3e-4], [2890, 7.5e-4, 6.6e-4], [2920, 6.8e-4, 6e-4], [2945, 4.8e-4, 4.2e-4],
  [2960, 2.8e-4, 2.4e-4], [2980, 4e-4, 3.5e-4], [3010, 6e-4, 5.2e-4], [3040, 7.2e-4, 6.3e-4],
  [3070, 7.5e-4, 6.6e-4], [3095, 7.2e-4, 6.3e-4],
];

type Pt = { t: number; v: number };
const fromCols = (cols: number[][]): Pt[] => cols.flatMap(([t, ...vs]) => vs.map((v) => ({ t, v })));
const fromPairs = (pairs: number[][]): Pt[] => pairs.map(([t, v]) => ({ t, v }));

const realRows = REAL_VIS.map((v, t) => ({ t, v }));
const ws1Rows = [...fromCols(WS_1KM), ...fromPairs(WS_1KM_ARCHES), ...fromPairs(WS_1KM_LOW)];
const idg1Rows = fromCols(IDG_1KM);
const ws84Rows = [...fromCols(WS_84KM), ...fromPairs(WS_84KM_LOW)];
const idg84Rows = fromCols(IDG_84KM);

// log axis: labelled decades plus unlabelled minor ticks
const LOG_TICKS = ERR_DECADES.flatMap((d, i) =>
  i === ERR_DECADES.length - 1 ? [d] : [d, ...[2, 3, 4, 5, 6, 7, 8, 9].map((m) => d * m)]
);
const isDecade = (v: number) => Math.abs(Math.log10(v) - Math.round(Math.log10(v))) < 1e-6;
const fmtLin = (v: number) => v.toFixed(1).replace('-', '\u2212');

function Mark({ kind, cx, cy }: { kind: string; cx: number; cy: number }) {
  if (kind === 'dot') return <circle cx={cx} cy={cy} r={1.55} fill="#000" />;
  if (kind === 'cross')
    return (
      <path
        d={`M${cx - 2} ${cy - 2}L${cx + 2} ${cy + 2}M${cx - 2} ${cy + 2}L${cx + 2} ${cy - 2}`}
        stroke="#8a8a8a"
        strokeWidth={0.9}
      />
    );
  if (kind === 'plusDark')
    return (
      <path d={`M${cx - 2} ${cy}H${cx + 2}M${cx} ${cy - 2}V${cy + 2}`} stroke="#333" strokeWidth={0.9} />
    );
  return (
    <path
      d={`M${cx - 3} ${cy}H${cx + 3}M${cx} ${cy - 3}V${cy + 3}`}
      stroke="#000"
      strokeOpacity={0.6}
      strokeWidth={1}
    />
  );
}

function BottomTick(p: any) {
  return (
    <g>
      <line x1={p.x} y1={p.y} x2={p.x} y2={p.y - 4} stroke={FRAME} />
      <text x={p.x} y={p.y + 10} textAnchor="middle" fontSize={8.5} fontFamily={FONT} fill={INK}>
        {p.payload.value}
      </text>
    </g>
  );
}

function TopTick(p: any) {
  return <line x1={p.x} y1={p.y} x2={p.x} y2={p.y + 4} stroke={FRAME} />;
}

function LeftTick(p: any) {
  const v = p.payload.value;
  if (p.log && !isDecade(v)) return <line x1={p.x} y1={p.y} x2={p.x + 2} y2={p.y} stroke={FRAME} />;
  return (
    <g>
      <line x1={p.x} y1={p.y} x2={p.x + 4} y2={p.y} stroke={FRAME} />
      {p.log ? (
        <text x={p.x - 2} y={p.y} dy="0.35em" textAnchor="end" fontSize={8.5} fontFamily={FONT} fill={INK}>
          10
          <tspan dy={-4} fontSize={6}>
            {'\u2212' + Math.abs(Math.round(Math.log10(v)))}
          </tspan>
        </text>
      ) : (
        <text x={p.x - 4} y={p.y} dy="0.35em" textAnchor="end" fontSize={8.5} fontFamily={FONT} fill={INK}>
          {fmtLin(v)}
        </text>
      )}
    </g>
  );
}

function RightTick(p: any) {
  const len = p.log && !isDecade(p.payload.value) ? 2 : 4;
  return <line x1={p.x} y1={p.y} x2={p.x - len} y2={p.y} stroke={FRAME} />;
}

// frame: bottom/left labelled axes, top/right mirrored tick marks (matplotlib classic box)
function frameAxes(o: { xDomain: number[]; xTicks: number[]; yDomain: number[]; yTicks: number[]; log: boolean; yWidth: number }) {
  const common = { type: 'number' as const, allowDataOverflow: true, interval: 0 as const, tickSize: 0, tickMargin: 0, tickLine: false, axisLine: { stroke: FRAME } };
  return [
    <XAxis key="xb" xAxisId="b" dataKey="t" domain={o.xDomain} ticks={o.xTicks} height={27} tick={<BottomTick />} {...common} />,
    <XAxis key="xt" xAxisId="t" orientation="top" domain={o.xDomain} ticks={o.xTicks} height={0} tick={<TopTick />} {...common} />,
    <YAxis key="yl" yAxisId="l" dataKey="v" scale={o.log ? 'log' : 'linear'} domain={o.yDomain} ticks={o.yTicks} width={o.yWidth} tick={<LeftTick log={o.log} />} {...common} />,
    <YAxis key="yr" yAxisId="r" orientation="right" scale={o.log ? 'log' : 'linear'} domain={o.yDomain} ticks={o.yTicks} width={0} tick={<RightTick log={o.log} />} {...common} />,
  ];
}

type LegendItem = { label: string; mark: string };
function LegendBox({ items, w, h, gap }: { items: LegendItem[]; w: number; h: number; gap: number }) {
  return (
    <svg width={w} height={h} style={{ display: 'block' }}>
      <rect x={0.5} y={0.5} width={w - 1} height={h - 1} fill="#fff" stroke={FRAME} />
      {items.map((it, i) => {
        const cy = 7.5 + i * gap;
        return (
          <g key={it.label}>
            {it.mark === 'line' ? (
              <line x1={7} y1={cy} x2={22} y2={cy} stroke="#000" strokeWidth={1.5} />
            ) : (
              [8, 21.5].map((cx) => <Mark key={cx} kind={it.mark} cx={cx} cy={cy} />)
            )}
            <text x={33.5} y={cy} dy="0.35em" fontSize={10} fontFamily={FONT} fill={INK}>
              {it.label}
            </text>
          </g>
        );
      })}
    </svg>
  );
}

const legendPlacement = { layout: 'vertical' as const, align: 'center' as const, verticalAlign: 'middle' as const };

function RealPanel() {
  const items = [
    { label: 'NDPPP', mark: 'line' },
    { label: 'wsclean', mark: 'cross' },
    { label: 'idg', mark: 'plusDark' },
  ];
  return (
    <ComposedChart width={400} height={288} data={realRows} margin={{ top: 14, right: 41, bottom: 0, left: 0 }}>
      {frameAxes({ xDomain: [0, 200], xTicks: REAL_X_TICKS, yDomain: [-1.5, 1.5], yTicks: REAL_Y_TICKS, log: false, yWidth: 39 })}
      <Line xAxisId="b" yAxisId="l" dataKey="v" type="linear" stroke="#000" strokeWidth={1.5} dot={false} isAnimationActive={false} />
      <Scatter xAxisId="b" yAxisId="l" data={realRows} shape={(p: any) => <Mark kind="cross" cx={p.cx} cy={p.cy} />} isAnimationActive={false} />
      <Scatter xAxisId="b" yAxisId="l" data={realRows} shape={(p: any) => <Mark kind="plusDark" cx={p.cx} cy={p.cy} />} isAnimationActive={false} />
      <Legend {...legendPlacement} wrapperStyle={{ left: 275, top: 19, width: 79, height: 48 }} content={() => <LegendBox items={items} w={79} h={48} gap={15} />} />
    </ComposedChart>
  );
}

function ErrorPanel({ ws, idg, yWidth, right, legendLeft }: { ws: Pt[]; idg: Pt[]; yWidth: number; right: number; legendLeft: number }) {
  const items = [
    { label: 'wsclean', mark: 'dot' },
    { label: 'idg', mark: 'plus' },
  ];
  return (
    <ScatterChart width={400} height={288} margin={{ top: 14, right, bottom: 0, left: 0 }}>
      {frameAxes({ xDomain: [0, 3100], xTicks: ERR_X_TICKS, yDomain: [1e-7, 1e-1], yTicks: LOG_TICKS, log: true, yWidth })}
      <Scatter xAxisId="b" yAxisId="l" data={ws} shape={(p: any) => <Mark kind="dot" cx={p.cx} cy={p.cy} />} isAnimationActive={false} />
      <Scatter xAxisId="b" yAxisId="l" data={idg} shape={(p: any) => <Mark kind="plus" cx={p.cx} cy={p.cy} />} isAnimationActive={false} />
      <Legend {...legendPlacement} wrapperStyle={{ left: legendLeft, top: 19, width: 79, height: 33 }} content={() => <LegendBox items={items} w={79} h={33} gap={16} />} />
    </ScatterChart>
  );
}

const TITLES = ['Real part predicted visibilities', 'Absolute error (1km baseline)', 'Absolute error (84km baseline)'];
const Y_LABELS = ['Re[visibility] (Jy)', 'abs(vis_{degrid}-vis_{true})', 'abs(vis_{degrid}-vis_{true})'];
const X_LABEL = 'time (steps)';

export default function App() {
  const centers = [199, 618, 1037];
  const yLabelX = [6.7, 429.7, 849];
  return (
    <div style={{ position: 'absolute', left: 0, top: 0, width: 1200, height: 288, background: '#fff' }}>
      <div style={{ position: 'absolute', left: 0, top: 0 }}>
        <RealPanel />
      </div>
      <div style={{ position: 'absolute', left: 400, top: 0 }}>
        <ErrorPanel ws={ws1Rows} idg={idg1Rows} yWidth={58} right={22} legendLeft={294} />
      </div>
      <div style={{ position: 'absolute', left: 800, top: 0 }}>
        <ErrorPanel ws={ws84Rows} idg={idg84Rows} yWidth={77} right={3} legendLeft={313} />
      </div>
      <svg width={1200} height={288} style={{ position: 'absolute', left: 0, top: 0, pointerEvents: 'none' }}>
        {centers.map((cx, i) => (
          <g key={i} fontFamily={FONT} fill={INK}>
            <text x={cx} y={10} textAnchor="middle" fontSize={10.3}>
              {TITLES[i]}
            </text>
            <text x={cx} y={283} textAnchor="middle" fontSize={8.6}>
              {X_LABEL}
            </text>
            <text
              x={yLabelX[i]}
              y={137.5}
              dy="0.35em"
              textAnchor="middle"
              fontSize={8.6}
              transform={`rotate(-90 ${yLabelX[i]} 137.5)`}
            >
              {Y_LABELS[i]}
            </text>
          </g>
        ))}
      </svg>
    </div>
  );
}
